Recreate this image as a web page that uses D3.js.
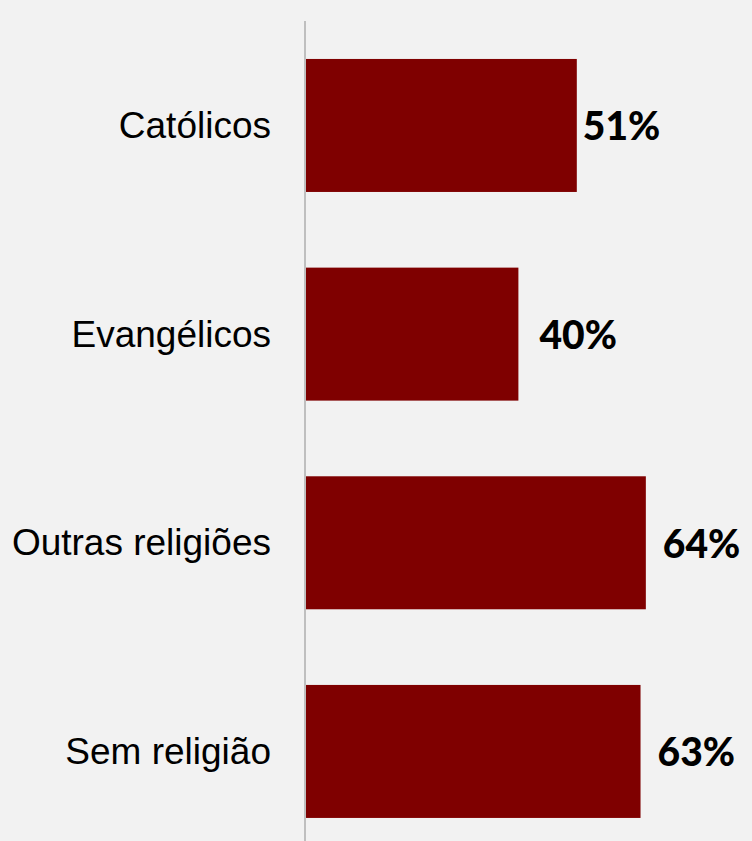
<!DOCTYPE html>
<html><head><meta charset="utf-8">
<script src="https://cdn.jsdelivr.net/npm/d3@7"></script>
<style>html,body{margin:0;padding:0;background:#f2f2f2;}svg{display:block;}</style>
</head><body>
<svg id="c" width="752" height="841"></svg>
<script>
const categories = ["Católicos", "Evangélicos", "Outras religiões", "Sem religião"];
const values = [51, 40, 64, 63];
const valueLabels = ["51%", "40%", "64%", "63%"];
// layout: horizontal gap between bar end and value label
const labelGap = [6, 21, 17, 17];

const svg = d3.select("#c");
svg.append("rect").attr("width", 752).attr("height", 841).attr("fill", "#f2f2f2");

const x = d3.scaleLinear().domain([0, 100]).range([306, 837]);
const y = d3.scaleBand().domain(categories).range([21.4, 855.5]).paddingInner(0.3626).paddingOuter(0.18);

svg.selectAll("rect.bar").data(values).join("rect").attr("class", "bar")
  .attr("x", x(0)).attr("y", (d, i) => y(categories[i]))
  .attr("width", d => x(d) - x(0)).attr("height", y.bandwidth())
  .attr("fill", "#7f0000");

svg.append("line").attr("x1", 305).attr("x2", 305).attr("y1", 21).attr("y2", 841)
  .attr("stroke", "#bfbfbf").attr("stroke-width", 2);

svg.selectAll("text.cat").data(categories).join("text").attr("class", "cat")
  .attr("x", 271).attr("y", d => y(d) + y.bandwidth() / 2)
  .attr("text-anchor", "end").attr("dominant-baseline", "central")
  .attr("font-family", "'Liberation Sans', Arial, sans-serif").attr("font-size", 37)
  .attr("fill", "#000").text(d => d);

svg.selectAll("text.val").data(values).join("text").attr("class", "val")
  .attr("x", (d, i) => x(d) + labelGap[i]).attr("y", (d, i) => y(categories[i]) + y.bandwidth() / 2)
  .attr("dominant-baseline", "central")
  .attr("font-family", "Lato, sans-serif").attr("font-weight", 900).attr("font-size", 39)
  .attr("fill", "#000").text((d, i) => valueLabels[i]);
</script>
</body></html>
